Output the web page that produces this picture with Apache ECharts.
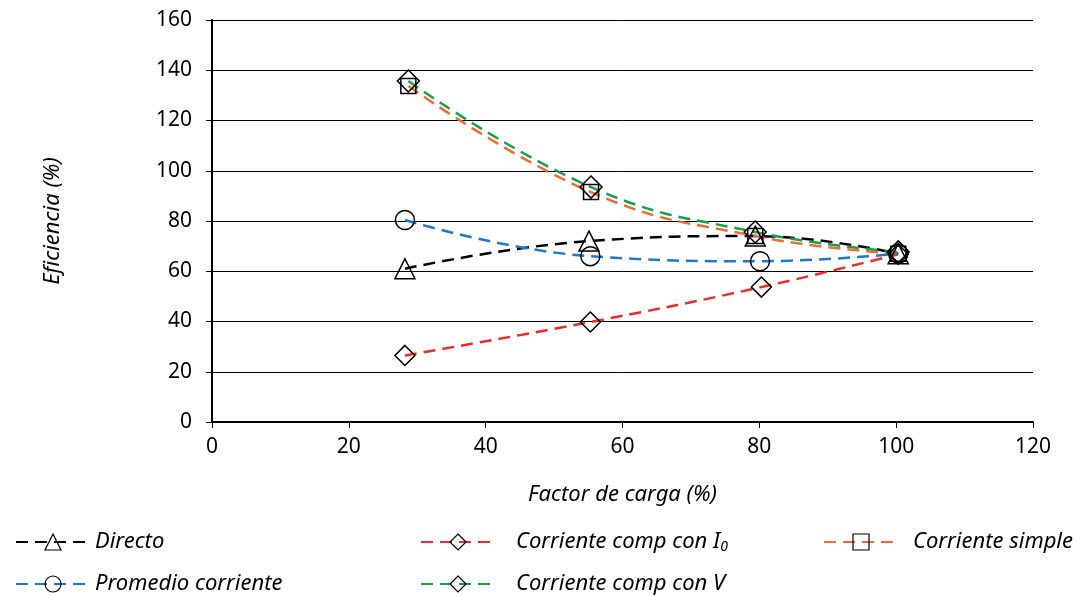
<!DOCTYPE html>
<html><head><meta charset="utf-8">
<script src="https://cdn.jsdelivr.net/npm/echarts@6/dist/echarts.min.js"></script>
<style>html,body{margin:0;padding:0;background:#fff}#c{width:1081px;height:596px}</style>
</head><body><div id="c"></div>
<script>
const xTicks = [0, 20, 40, 60, 80, 100, 120];
const yTicks = [0, 20, 40, 60, 80, 100, 120, 140, 160];
const seriesNames = ['Directo', 'Corriente comp con I0', 'Corriente simple', 'Promedio corriente', 'Corriente comp con V'];
const directo = [[28.2, 61], [55.1, 72], [79.4, 74], [100.3, 67]];
const compI0 = [[28.2, 26.5], [55.3, 39.8], [80.3, 53.7], [100.3, 66.8]];
const simple = [[28.7, 133.7], [55.4, 91.5], [79.4, 74], [100.3, 67]];
const promedio = [[28.2, 80.4], [55.3, 66], [80.1, 64], [100.3, 67]];
const compV = [[28.7, 135.7], [55.4, 93.5], [79.4, 75.6], [100.3, 67.7]];

const FONT = '"Noto Sans", sans-serif';
const mk = (name, data, color, symbol, size) => ({
  name, type: 'line', data, smooth: 0.45, symbol, symbolSize: size,
  lineStyle: {color, width: 2.5, type: [12, 7]},
  itemStyle: {color: 'rgba(255,255,255,0)', borderColor: '#000', borderWidth: 1.5},
  z: 2
});
const chart = echarts.init(document.getElementById('c'));
const legendText = {
  color: '#000', fontFamily: FONT, fontStyle: 'italic', fontSize: 22,
  rich: {sub: {fontSize: 14, fontStyle: 'italic', fontFamily: FONT, verticalAlign: 'bottom', padding: [10, 0, 0, 0], color: '#000'}}
};
const fmt = n => n === 'Corriente comp con I0' ? 'Corriente comp con I{sub|0}' : n;
const lg = (name, left, top, pad) => ({
  data: [name], left, top, itemWidth: 74, itemHeight: 20, itemGap: 0, selectedMode: false,
  formatter: fmt, textStyle: Object.assign({padding: [0, 0, 0, pad]}, legendText),
  itemStyle: {borderWidth: 1.2}
});
chart.setOption({
  animation: false,
  backgroundColor: '#fff',
  grid: {left: 212, right: 48, top: 20, bottom: 174},
  xAxis: {
    type: 'value', min: 0, max: 120, interval: 20,
    name: 'Factor de carga (%)', nameLocation: 'middle', nameGap: 62,
    nameTextStyle: {fontFamily: FONT, fontStyle: 'italic', fontSize: 22, color: '#000'},
    axisLine: {show: true, lineStyle: {color: '#000', width: 2}},
    axisTick: {show: true, length: 6, lineStyle: {color: '#000', width: 1}},
    axisLabel: {fontFamily: FONT, fontSize: 21, color: '#000', margin: 15},
    splitLine: {show: false}
  },
  yAxis: {
    type: 'value', min: 0, max: 160, interval: 20,
    name: 'Eficiencia (%)', nameLocation: 'middle', nameGap: 148,
    nameTextStyle: {fontFamily: FONT, fontStyle: 'italic', fontSize: 22, color: '#000'},
    axisLine: {show: true, lineStyle: {color: '#000', width: 2}},
    axisTick: {show: true, length: 6, lineStyle: {color: '#000', width: 1}},
    axisLabel: {fontFamily: FONT, fontSize: 21, color: '#000', margin: 20},
    splitLine: {show: true, lineStyle: {color: '#000', width: 1}}
  },
  legend: [
    lg('Directo', 10, 526, 0),
    lg('Corriente comp con I0', 415, 526, 16),
    lg('Corriente simple', 818, 526, 10),
    lg('Promedio corriente', 10, 568, 0),
    lg('Corriente comp con V', 415, 568, 16)
  ],
  series: [
    mk('Directo', directo, '#000000', 'triangle', 20),
    mk('Corriente comp con I0', compI0, '#ee2a2a', 'diamond', 20),
    mk('Corriente simple', simple, '#f26b35', 'rect', 15),
    mk('Promedio corriente', promedio, '#2178c4', 'circle', 19),
    mk('Corriente comp con V', compV, '#17a04c', 'diamond', 22)
  ]
});
</script></body></html>
